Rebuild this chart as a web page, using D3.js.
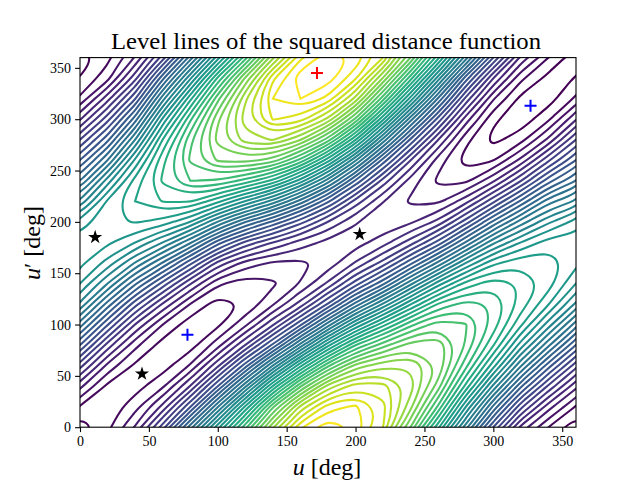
<!DOCTYPE html>
<html>
<head>
<meta charset="utf-8">
<script src="https://cdn.jsdelivr.net/npm/d3@7"></script>
<style>
html, body { margin: 0; background: #fff; }
text { font-family: "Liberation Serif", serif; fill: #000; }
</style>
</head>
<body>
<div id="chart"></div>
<script>
// values, one list per u column, u' = 0, 20 ... 340
var u0   = [.3,1.9,4.3,7.4,11,14.5,17.8,20,21.3,21.55,20.4,17.2,14,11,8,4.9,2.2,1.05];
var u20  = [1.7,1.3,1.75,3.7,6.6,10.1,13.6,17,19.6,21.2,21.8,21.2,18.5,15,11.7,8.6,5.6,2.6];
var u40  = [4.1,2.6,1.55,1.8,3.3,5.95,9.4,13.2,16.9,20,22.1,23,22.4,20.2,17,13.5,9.9,6.6];
var u60  = [8.5,5.3,2.8,1.5,1.55,3,5.9,9.65,13.9,18,21.6,24.1,25.2,24.7,23.05,20.2,16.6,12.7];
var u80  = [14.5,9.9,6.05,3.1,1.5,1.4,3,6.1,10.3,15.2,20,24.1,27,28.2,27.7,25.8,22.7,18.8];
var u100 = [20.6,15.9,11,6.8,3.6,1.75,1.5,3.2,6.65,11.45,16.9,22.25,26.9,30.2,31.4,30.8,28.7,25.2];
var u120 = [26.6,22.2,16.8,11.55,7.05,3.75,2.1,2.4,4.6,8.75,14.05,19.9,25.6,30.4,33.5,34.6,33.8,31.2];
var u140 = [32.8,28.85,23.1,17.05,11.25,6.85,3.85,2.8,3.85,7,11.8,17.6,23.75,29.55,34.1,37.1,38,36.8];
var u160 = [37.8,34.3,28.9,22.75,16.4,10.8,6.4,4.05,3.75,5.6,9.4,14.6,20.55,26.7,32.1,36.45,39,39.7];
var u180 = [39.7,37.5,33.4,27.8,21.7,15.5,10.1,6.2,4.35,4.65,7,11.2,16.55,22.45,28.5,33.75,37.7,39.6];
var u200 = [38.8,38.2,35.6,31.35,26,20.1,14.35,9.5,6.1,4.55,5.1,7.6,11.85,17.15,23.1,28.8,33.7,37.2];
var u220 = [36,36.4,35.4,32.7,28.55,23.6,18.1,12.7,8.4,5.5,4.3,5.05,7.6,11.6,16.65,22.2,27.4,31.9];
var u240 = [30,32.3,33.5,32.9,30.5,26.7,21.9,16.7,11.7,7.5,4.8,3.8,4.55,7,10.8,15.4,20.6,25.4];
var u260 = [23.3,26.8,29.5,30.9,30.7,28.6,25.1,20.5,15.25,10.35,6.3,3.75,2.75,3.5,6,9.6,13.85,18.5];
var u280 = [16.5,20,23.7,26.35,27.9,28.1,26.4,23.35,19,14.1,9.5,5.6,2.7,1.55,2.3,4.5,7.7,11.5];
var u300 = [10,13.75,17.75,21.4,24.1,25.6,25.9,24.6,21.75,17.75,13.25,8.75,4.8,1.9,.7,1.2,3.1,6];
var u320 = [4.7,8.3,12.2,16.1,19.5,22.2,23.6,23.9,22.7,20,16.45,12.2,7.95,4.3,1.6,.35,.7,2.25];
var u340 = [2,4.45,7.8,11.45,15.25,18.5,21.1,22.5,22.6,21.5,18.8,15.6,11.6,7.8,4.25,1.8,.5,.65];

var columns = [u0,u20,u40,u60,u80,u100,u120,u140,u160,u180,u200,u220,u240,u260,u280,u300,u320,u340];
var step = 20; // degrees between table entries

var levels = d3.range(1, 40);
var ticks = [0,50,100,150,200,250,300,350];

var blueCrosses = [[78,90],[327,313]];
var redCrosses = [[172,345]];
var stars = [[11,185],[45,52],[203,188]];

var w = 640, h = 480;
var x = d3.scaleLinear().domain([0,360]).range([80,576]);
var y = d3.scaleLinear().domain([0,360]).range([427.2,57.6]);

var svg = d3.select("#chart").append("svg")
	.attr("width", w)
	.attr("height", h)
	.style("display", "block");

svg.append("clipPath").attr("id", "plot")
	.append("rect")
	.attr("x", x(0)).attr("y", y(360))
	.attr("width", x(360)-x(0)).attr("height", y(0)-y(360));

// the function wraps in both angles, one extra cell each side so the rings close outside the frame
var n = columns.length;
var nGrid = n + 3;
var flat = [];
for (var j = -1; j <= n + 1; j++) {
	for (var i = -1; i <= n + 1; i++) {
		flat.push(columns[(i + n) % n][(j + n) % n]);
	}
}

var contours = d3.contours().size([nGrid, nGrid]).thresholds(levels)(flat);

var toU = function(p) { return (p - 0.5 - 1) * step; };
var ringLine = d3.line()
	.x(function(d){ return x(toU(d[0])); })
	.y(function(d){ return y(toU(d[1])); })
	.curve(d3.curveBasisClosed);

var color = function(v) { return d3.interpolateViridis((v - 1) / (levels.length - 1)); };

var lines = svg.append("g").attr("clip-path", "url(#plot)");
contours.forEach(function(c){
	c.coordinates.forEach(function(poly){
		poly.forEach(function(ring){
			lines.append("path")
				.attr("d", ringLine(ring.slice(1)))
				.attr("fill", "none")
				.attr("stroke", color(c.value))
				.attr("stroke-width", 2.08);
		});
	});
});

// markers
var cross = "M-6,0H6M0,-6V6";
function crosses(list, col) {
	svg.selectAll(null).data(list).enter().append("path")
		.attr("d", cross)
		.attr("transform", function(d){ return "translate(" + x(d[0]) + "," + y(d[1]) + ")"; })
		.attr("fill", "none")
		.attr("stroke", col)
		.attr("stroke-width", 2);
}
crosses(blueCrosses, "#0000ff");
crosses(redCrosses, "#ff0000");

svg.selectAll(null).data(stars).enter().append("path")
	.attr("d", d3.symbol().type(d3.symbolStar).size(62))
	.attr("transform", function(d){ return "translate(" + x(d[0]) + "," + y(d[1]) + ")"; })
	.attr("fill", "#000");

// frame and axes
svg.append("rect")
	.attr("x", x(0)).attr("y", y(360))
	.attr("width", x(360)-x(0)).attr("height", y(0)-y(360))
	.attr("fill", "none")
	.attr("stroke", "#000")
	.attr("stroke-width", 1.1);

var xAxis = svg.append("g")
	.attr("transform", "translate(0," + y(0) + ")")
	.call(d3.axisBottom(x).tickValues(ticks).tickFormat(d3.format("d")).tickSize(4.9).tickSizeOuter(0).tickPadding(4));
var yAxis = svg.append("g")
	.attr("transform", "translate(" + x(0) + ",0)")
	.call(d3.axisLeft(y).tickValues(ticks).tickFormat(d3.format("d")).tickSize(4.9).tickSizeOuter(0).tickPadding(4));
[xAxis, yAxis].forEach(function(a){
	a.select(".domain").remove();
	a.selectAll("line").attr("stroke-width", 1.1);
	a.selectAll("text").style("font-size", "14px").style("font-family", "'Liberation Serif', serif");
});

// titles
svg.append("text")
	.attr("x", 326).attr("y", 49)
	.attr("text-anchor", "middle")
	.attr("textLength", 430)
	.attr("lengthAdjust", "spacingAndGlyphs")
	.style("font-size", "24px")
	.text("Level lines of the squared distance function");

var xLabel = svg.append("text")
	.attr("x", 327).attr("y", 475)
	.attr("text-anchor", "middle")
	.style("font-size", "24px");
xLabel.append("tspan").style("font-style", "italic").text("u");
xLabel.append("tspan").text(" [deg]");

var yLabel = svg.append("text")
	.attr("transform", "translate(40,243) rotate(-90)")
	.attr("text-anchor", "middle")
	.style("font-size", "24px");
yLabel.append("tspan").style("font-style", "italic").text("u");
yLabel.append("tspan").text("\u2032 [deg]");
</script>
</body>
</html>
